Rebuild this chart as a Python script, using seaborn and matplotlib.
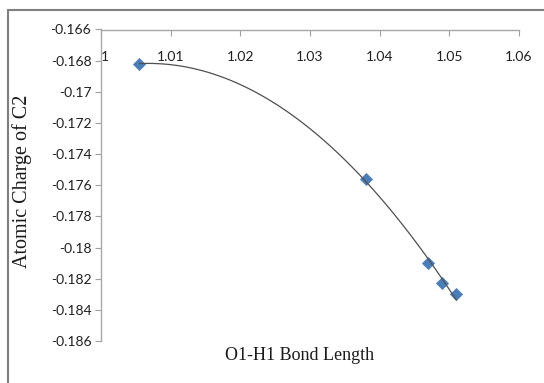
import seaborn as sns
import matplotlib.pyplot as plt
import pandas as pd

# data
bond_length = [1.0055, 1.038, 1.047, 1.049, 1.051]
charge_c2 = [-0.1682, -0.1756, -0.1810, -0.1823, -0.1830]

x_ticks = [1.00, 1.01, 1.02, 1.03, 1.04, 1.05, 1.06]
x_tick_labels = ["1", "1.01", "1.02", "1.03", "1.04", "1.05", "1.06"]
y_ticks = [-0.166, -0.168, -0.17, -0.172, -0.174, -0.176, -0.178, -0.18, -0.182, -0.184, -0.186]
y_tick_labels = ["-0.166", "-0.168", "-0.17", "-0.172", "-0.174", "-0.176", "-0.178", "-0.18", "-0.182", "-0.184", "-0.186"]

df = pd.DataFrame({"Bond": bond_length, "Charge": charge_c2})

sns.set_style("white")
plt.rcParams["font.family"] = ["Lato", "DejaVu Sans"]

fig = plt.figure(figsize=(5.44, 3.83), dpi=100)
ax = fig.add_axes([101 / 544, 1 - 341 / 383, 418 / 544, 311.5 / 383])

# polynomial trendline (order 2) like the excel one
sns.regplot(data=df, x="Bond", y="Charge", order=2, ci=None, scatter=False, truncate=True,
            line_kws={"color": "#505050", "lw": 0.9, "zorder": 3}, ax=ax)
sns.scatterplot(data=df, x="Bond", y="Charge", marker="D", s=38, color="#4A7EBB",
                edgecolor="#4A7EBB", linewidth=0.5, zorder=2, ax=ax)

ax.set_xlim(1.0, 1.06)
ax.set_ylim(-0.186, -0.166)
ax.set_xticks(x_ticks)
ax.set_xticklabels(x_tick_labels)
ax.set_yticks(y_ticks)
ax.set_yticklabels(y_tick_labels)

# x axis sits on top, labels below the line
ax.tick_params(axis="x", top=True, bottom=False, labeltop=True, labelbottom=False,
               direction="in", length=4, width=0.8, color="#A0A0A0", pad=-24,
               labelsize=10, labelcolor="#202020")
ax.tick_params(axis="y", left=True, direction="out", length=4, width=0.8, color="#A0A0A0",
               labelsize=10, labelcolor="#202020", pad=3)
# first label sits just right of the y axis, as in excel
ax.get_xticklabels(which="major")[0].set_horizontalalignment("left")
for t in ax.xaxis.get_major_ticks()[:1]:
    t.label2.set_horizontalalignment("left")

for side in ["right", "bottom"]:
    ax.spines[side].set_visible(False)
for side in ["top", "left"]:
    ax.spines[side].set_color("#A8A8A8")
    ax.spines[side].set_linewidth(1.0)

ax.set_xlabel("O1-H1 Bond Length", family="Liberation Serif", fontsize=13, color="#1a1a1a")
ax.set_ylabel("Atomic Charge of C2", family="Liberation Serif", fontsize=14.5, color="#1a1a1a")
ax.xaxis.set_label_coords(0.476, -0.02)
ax.yaxis.set_label_coords(-0.165, 0.514)

# chart area border (only left/top visible in the crop)
fig.add_artist(plt.Rectangle((8 / 544, -0.1), 1.0, 1 - 10 / 383 + 0.1, transform=fig.transFigure,
                             fill=False, edgecolor="#7F7F7F", lw=1.5))

fig.savefig("out.png", dpi=100)
